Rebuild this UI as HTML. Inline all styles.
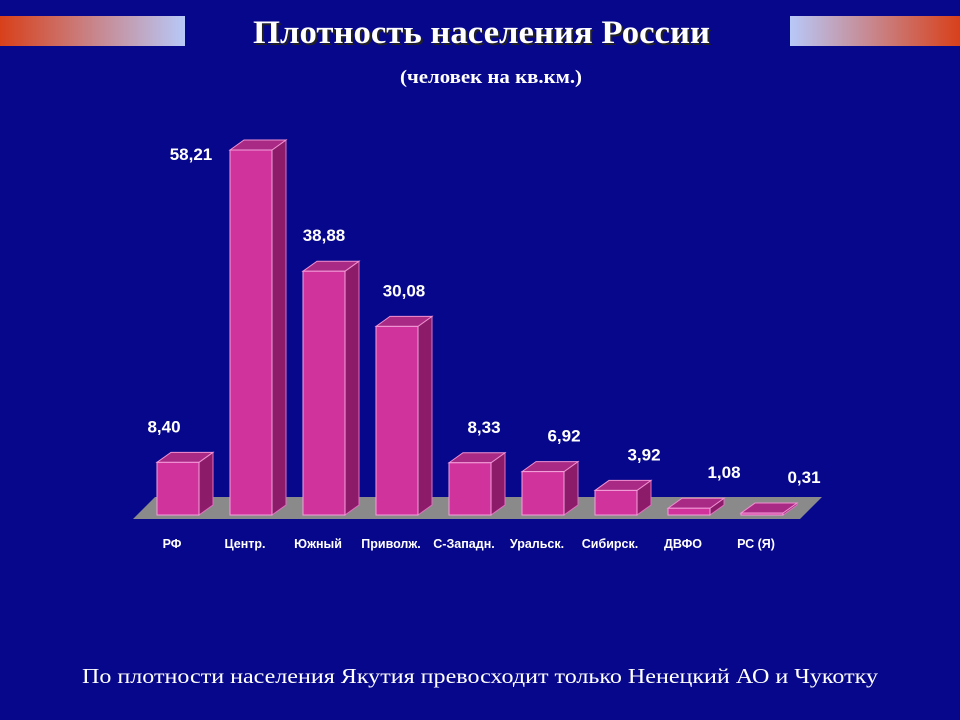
<!DOCTYPE html>
<html><head><meta charset="utf-8"><style>
html,body{margin:0;padding:0;background:#07078c;}
svg{display:block}
</style></head><body>
<svg width="960" height="720" viewBox="0 0 960 720" xmlns="http://www.w3.org/2000/svg">
<defs>
<linearGradient id="gl" x1="0" x2="1"><stop offset="0" stop-color="#d8401a"/><stop offset="1" stop-color="#b8c8f8"/></linearGradient>
<linearGradient id="gr" x1="0" x2="1"><stop offset="0" stop-color="#b8c8f8"/><stop offset="1" stop-color="#d8401a"/></linearGradient>
</defs>
<rect width="960" height="720" fill="#07078c"/>
<rect x="0" y="16" width="185" height="30" fill="url(#gl)"/>
<rect x="790" y="16" width="170" height="30" fill="url(#gr)"/>
<text x="255" y="45" textLength="457" lengthAdjust="spacingAndGlyphs" font-family="Liberation Serif, serif" font-weight="bold" font-size="33" fill="#222">Плотность населения России</text>
<text x="253" y="43" textLength="457" lengthAdjust="spacingAndGlyphs" font-family="Liberation Serif, serif" font-weight="bold" font-size="33" fill="#fff">Плотность населения России</text>
<text x="400" y="83" textLength="182" lengthAdjust="spacingAndGlyphs" font-family="Liberation Serif, serif" font-weight="bold" font-size="19" fill="#fff">(человек на кв.км.)</text>
<polygon points="133,519 800,519 822,497 155,497" fill="#8a8a8a"/>
<g id="bars"></g>
<text x="82" y="683" textLength="796" lengthAdjust="spacingAndGlyphs" font-family="Liberation Serif, serif" font-size="21" fill="#fff">По плотности населения Якутия превосходит только Ненецкий АО и Чукотку</text>
</svg>
<script>
const categories = ["РФ","Центр.","Южный","Приволж.","С-Западн.","Уральск.","Сибирск.","ДВФО","РС (Я)"];
const values = [8.40,58.21,38.88,30.08,8.33,6.92,3.92,1.08,0.31];
const valueLabels = ["8,40","58,21","38,88","30,08","8,33","6,92","3,92","1,08","0,31"];
const NS="http://www.w3.org/2000/svg";
const g=document.getElementById('bars');
const baseY=515, scale=365/58.21, x0=157, step=73, w=42, dx=14, dy=10;
function xPos(i){return x0+i*step;}
function yPos(v){return baseY-v*scale;}
function mk(t,a){const e=document.createElementNS(NS,t);for(const k in a)e.setAttribute(k,a[k]);g.appendChild(e);return e;}
values.forEach((v,i)=>{
  const x=xPos(i), y=yPos(v);
  const side=mk('polygon',{points:`${x+w},${y} ${x+w+dx},${y-dy} ${x+w+dx},${baseY-dy} ${x+w},${baseY}`,fill:'#8c1c6a',stroke:'#e070c0','stroke-width':1});
  
  
  const top=mk('polygon',{points:`${x},${y} ${x+dx},${y-dy} ${x+w+dx},${y-dy} ${x+w},${y}`,fill:'#a82a84',stroke:'#f090d0','stroke-width':1});
  
  
  const f=mk('rect',{x:x,y:y,width:w,height:baseY-y,fill:'#d0349c',stroke:'#f4a0dc','stroke-width':1});
  
  
  const lx = i===1 ? x-60+w/2 : x+w/2+(i-2)*7;
  const ly = i===1 ? y+10 : y-30;
  const t=mk('text',{x:lx,y:ly,'text-anchor':'middle','font-family':'Liberation Sans, sans-serif','font-weight':'bold','font-size':17,fill:'#fff'});
  t.textContent=valueLabels[i];
  
  
  const c=mk('text',{x:x+w/2-6,y:548,'text-anchor':'middle','font-family':'Liberation Sans, sans-serif','font-weight':'bold','font-size':12.5,fill:'#fff'});
  c.textContent=categories[i];
  
  
});
</script>
</body></html>
